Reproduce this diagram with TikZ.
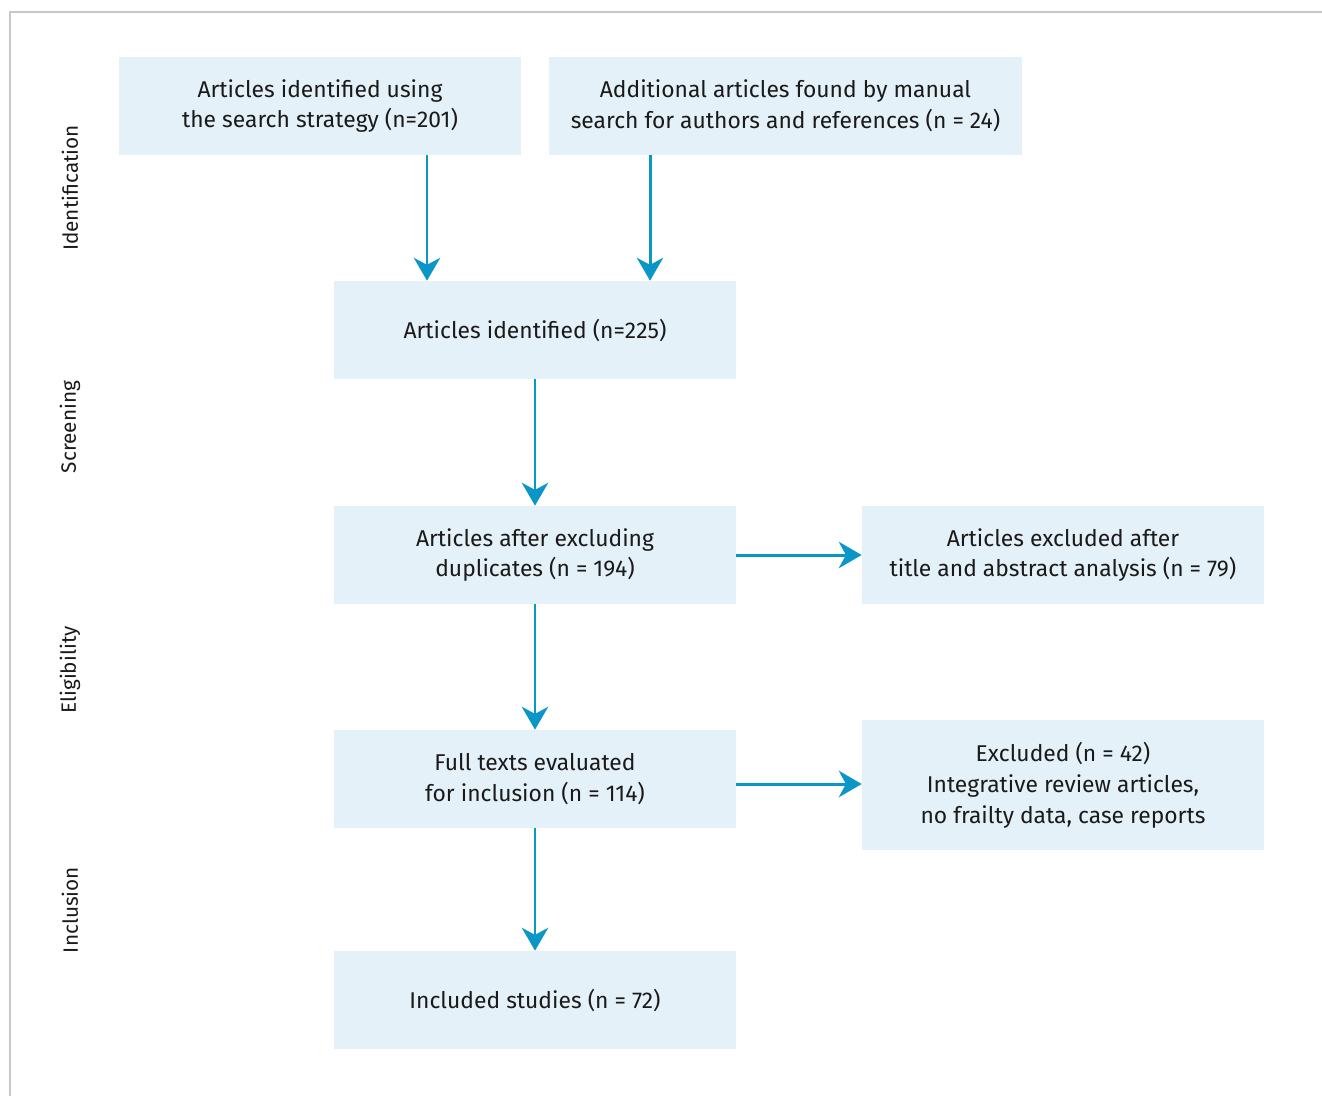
\documentclass[tikz,border=0pt]{standalone}
\usepackage{fontspec}
\setmainfont{Fira Sans}
\usetikzlibrary{arrows.meta}
\definecolor{boxfill}{HTML}{E4F1F8}
\definecolor{flowblue}{HTML}{0A97C8}
\definecolor{framegray}{HTML}{C8C8C8}
\definecolor{txt}{HTML}{1A1A1A}
\tikzset{
  stage/.style={fill=boxfill,text=txt,align=center,inner sep=0pt,
    minimum width=8.04cm,minimum height=1.96cm,
    font=\fontsize{13pt}{17.6pt}\selectfont},
  phase/.style={rotate=90,text=txt,font=\fontsize{11.8pt}{14pt}\selectfont},
  flow/.style={draw=flowblue,line width=1.7pt,-{Stealth[length=13pt,width=15pt,inset=4pt]}}
}
\begin{document}
\begin{tikzpicture}[x=0.02cm,y=-0.02cm]
	\useasboundingbox (0,0) rectangle (1322,1096);
	\draw[framegray,line width=1.2pt] (10,1096) -- (10,12) -- (1322,12);
	% phases
	\node[phase] (pid) at (70,188) {Identification};
	\node[phase] (psc) at (70,427) {Screening};
	\node[phase] (pel) at (70,670) {Eligibility};
	\node[phase] (pin) at (70,910) {Inclusion};
	% boxes
	\node[stage] (search) at (320,106) {Articles identified using\\the search strategy (n=201)};
	\node[stage,minimum width=9.46cm] (manual) at (785.5,106) {Additional articles found by manual\\search for authors and references (n = 24)};
	\node[stage] (ident) at (535,330) {Articles identified (n=225)};
	\node[stage] (dupl) at (535,555) {Articles after excluding\\duplicates (n = 194)};
	\node[stage] (exabs) at (1063,555) {Articles excluded after\\title and abstract analysis (n = 79)};
	\node[stage] (full) at (535,779) {Full texts evaluated\\for inclusion (n = 114)};
	\node[stage,minimum height=2.6cm] (exfull) at (1063,785) {Excluded (n = 42)\\Integrative review articles,\\no frailty data, case reports};
	\node[stage] (incl) at (535,1000) {Included studies (n = 72)};
	% arrows
	\coordinate (xa) at (427,0);
	\coordinate (xb) at (650,0);
	\coordinate (yf) at (0,784);
	\draw[flow] (search.south -| xa) -- (ident.north -| xa);
	\draw[flow] (manual.south -| xb) -- (ident.north -| xb);
	\draw[flow] (ident) -- (dupl);
	\draw[flow] (dupl) -- (exabs);
	\draw[flow] (dupl) -- (full);
	\draw[flow] (full.east |- yf) -- (exfull.west |- yf);
	\draw[flow] (full) -- (incl);
\end{tikzpicture}
\end{document}
